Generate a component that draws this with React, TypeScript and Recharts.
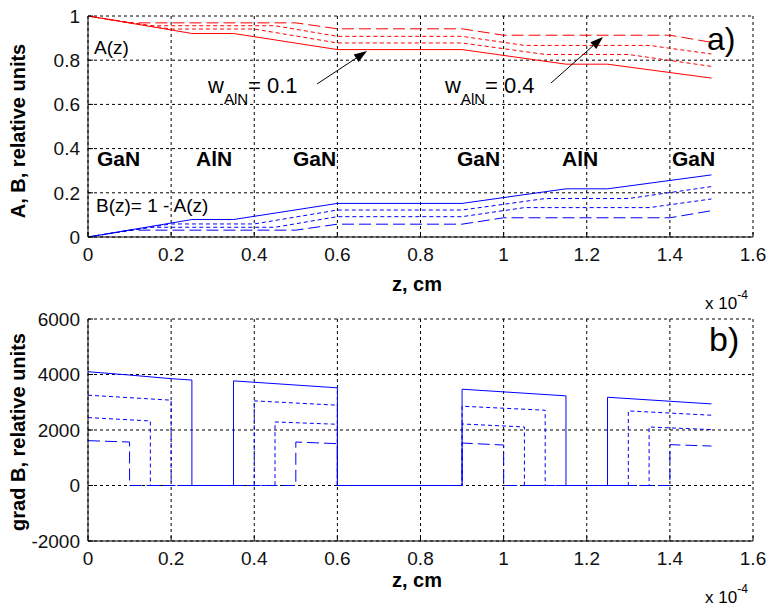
import { LineChart, Line, XAxis, YAxis, CartesianGrid } from 'recharts';

// z in units of 1e-4 cm
const zTicks = [0, 0.2, 0.4, 0.6, 0.8, 1, 1.2, 1.4, 1.6];
const abTicks = [0, 0.2, 0.4, 0.6, 0.8, 1];
const gradTicks = [-2000, 0, 2000, 4000, 6000];

// panel a) : A(z) and B(z) for w_AlN = 0.1, 0.2, 0.3, 0.4
const zW01 = [0, 0.25, 0.35, 0.6, 0.9, 1.15, 1.25, 1.5];
const aW01 = [1, 0.921, 0.921, 0.848, 0.848, 0.782, 0.782, 0.719];
const bW01 = [0, 0.079, 0.079, 0.152, 0.152, 0.218, 0.218, 0.281];

const zW02 = [0, 0.2, 0.4, 0.6, 0.9, 1.1, 1.3, 1.5];
const aW02 = [1, 0.941, 0.941, 0.878, 0.878, 0.826, 0.826, 0.772];
const bW02 = [0, 0.059, 0.059, 0.122, 0.122, 0.174, 0.174, 0.228];

const zW03 = [0, 0.15, 0.45, 0.6, 0.9, 1.05, 1.35, 1.5];
const aW03 = [1, 0.956, 0.956, 0.908, 0.908, 0.867, 0.867, 0.828];
const bW03 = [0, 0.044, 0.044, 0.092, 0.092, 0.133, 0.133, 0.172];

const zW04 = [0, 0.1, 0.5, 0.6, 0.9, 1.0, 1.4, 1.5];
const aW04 = [1, 0.969, 0.969, 0.942, 0.942, 0.913, 0.913, 0.881];
const bW04 = [0, 0.031, 0.031, 0.058, 0.058, 0.087, 0.087, 0.119];

// panel b) : grad B, steps drop to zero inside AlN and the gap
const gzW01 = [0, 0.1, 0.2, 0.25, 0.25, 0.35, 0.35, 0.6, 0.6, 0.9, 0.9, 1.15, 1.15, 1.25, 1.25, 1.5];
const gW01 = [4100, 3980, 3850, 3800, 0, 0, 3770, 3520, 0, 0, 3470, 3230, 0, 0, 3180, 2940];

const gzW02 = [0, 0.2, 0.2, 0.4, 0.4, 0.6, 0.6, 0.9, 0.9, 1.1, 1.1, 1.3, 1.3, 1.5];
const gW02 = [3255, 3074, 0, 0, 3050, 2893, 0, 0, 2857, 2712, 0, 0, 2688, 2532];

const gzW03 = [0, 0.15, 0.15, 0.45, 0.45, 0.6, 0.6, 0.9, 0.9, 1.05, 1.05, 1.35, 1.35, 1.5];
const gW03 = [2448, 2326, 0, 0, 2290, 2206, 0, 0, 2217, 2109, 0, 0, 2109, 2014];

const gzW04 = [0, 0.1, 0.1, 0.5, 0.5, 0.6, 0.6, 0.9, 0.9, 1.0, 1.0, 1.4, 1.4, 1.5];
const gW04 = [1616, 1566, 0, 0, 1566, 1508, 0, 0, 1530, 1458, 0, 0, 1472, 1422];

const layerLabels = ['GaN', 'AlN', 'GaN', 'GaN', 'AlN', 'GaN'];
const layerLabelX = [97, 196, 293, 457, 562, 672];

const pts = (z: number[], v: number[]) => z.map((x, i) => ({ z: x, v: v[i] }));

const FONT = "'Liberation Sans', Arial, Helvetica, sans-serif";
const RED = '#ff0000';
const BLUE = '#0000ff';

// solid, dashed, dashed, long dash
const dashes = [undefined, '4 3', '4 3', '12 5'];

const tickStyle = { fontSize: 19, fill: '#111', fontFamily: FONT };

function Arrow({ x1, y1, x2, y2 }: { x1: number; y1: number; x2: number; y2: number }) {
  const a = Math.atan2(y2 - y1, x2 - x1);
  const len = 13;
  const half = 4.5;
  const bx = x2 - len * Math.cos(a);
  const by = y2 - len * Math.sin(a);
  const p1 = `${bx + half * Math.sin(a)},${by - half * Math.cos(a)}`;
  const p2 = `${bx - half * Math.sin(a)},${by + half * Math.cos(a)}`;
  return (
    <g>
      <line x1={x1} y1={y1} x2={bx} y2={by} stroke="#000" strokeWidth={1} />
      <polygon points={`${x2},${y2} ${p1} ${p2}`} fill="#000" />
    </g>
  );
}

function Panel({
  top,
  height,
  marginTop,
  marginBottom,
  domain,
  ticks,
  children,
}: {
  top: number;
  height: number;
  marginTop: number;
  marginBottom: number;
  domain: [number, number];
  ticks: number[];
  children: React.ReactNode;
}) {
  return (
    <div style={{ position: 'absolute', left: 0, top }}>
      <LineChart
        width={770}
        height={height}
        margin={{ top: marginTop, right: 17, bottom: marginBottom, left: 0 }}
      >
        <CartesianGrid stroke="#000" strokeDasharray="3 3" strokeWidth={1} horizontalValues={ticks} verticalValues={zTicks} />
        <XAxis
          type="number"
          dataKey="z"
          domain={[0, 1.6]}
          ticks={zTicks}
          allowDataOverflow
          height={30}
          tick={tickStyle}
          tickSize={-5}
          tickMargin={16}
          stroke="#000"
          tickLine={{ stroke: '#000' }}
          axisLine={{ stroke: '#000' }}
        />
        <YAxis
          type="number"
          domain={domain}
          ticks={ticks}
          allowDataOverflow
          width={88}
          tick={tickStyle}
          tickSize={-5}
          tickMargin={13}
          stroke="#000"
          tickLine={{ stroke: '#000' }}
          axisLine={{ stroke: '#000' }}
        />
        {children}
      </LineChart>
    </div>
  );
}

const aSeries = [
  pts(zW01, aW01),
  pts(zW02, aW02),
  pts(zW03, aW03),
  pts(zW04, aW04),
];
const bSeries = [
  pts(zW01, bW01),
  pts(zW02, bW02),
  pts(zW03, bW03),
  pts(zW04, bW04),
];
const gSeries = [
  pts(gzW01, gW01),
  pts(gzW02, gW02),
  pts(gzW03, gW03),
  pts(gzW04, gW04),
];

export default function App() {
  return (
    <div style={{ position: 'absolute', left: 0, top: 0, width: 770, height: 607, background: '#fff', fontFamily: FONT }}>
      <Panel top={0} height={300} marginTop={16} marginBottom={33} domain={[0, 1]} ticks={abTicks}>
        {aSeries.map((d, i) => (
          <Line
            key={`a${i}`}
            data={d}
            dataKey="v"
            type="linear"
            stroke={RED}
            strokeWidth={1}
            strokeDasharray={dashes[i]}
            dot={false}
            isAnimationActive={false}
          />
        ))}
        {bSeries.map((d, i) => (
          <Line
            key={`b${i}`}
            data={d}
            dataKey="v"
            type="linear"
            stroke={BLUE}
            strokeWidth={1}
            strokeDasharray={dashes[i]}
            dot={false}
            isAnimationActive={false}
          />
        ))}
      </Panel>
      <Panel top={300} height={307} marginTop={19} marginBottom={36} domain={[-2000, 6000]} ticks={gradTicks}>
        {gSeries
          .map((d, i) => (
            <Line
              key={`g${i}`}
              data={d}
              dataKey="v"
              type="linear"
              stroke={BLUE}
              strokeWidth={1}
              strokeDasharray={dashes[i]}
              dot={false}
              isAnimationActive={false}
            />
          ))
          .reverse()}
      </Panel>
      <svg
        width={770}
        height={607}
        style={{ position: 'absolute', left: 0, top: 0, pointerEvents: 'none' }}
        fontFamily={FONT}
      >
        {/* panel a */}
        <text x={94} y={54} fontSize={19}>A(z)</text>
        <text x={96} y={212} fontSize={19}>B(z)= 1 - A(z)</text>
        {layerLabels.map((t, i) => (
          <text key={t + i} x={layerLabelX[i]} y={166} fontSize={21} fontWeight="bold">
            {t}
          </text>
        ))}
        <text x={208} y={93} fontSize={22}>
          w<tspan fontSize={15} dy={11}>AlN</tspan>
          <tspan fontSize={22} dy={-11}>= 0.1</tspan>
        </text>
        <Arrow x1={317} y1={84} x2={367} y2={51} />
        <text x={445} y={93} fontSize={22}>
          w<tspan fontSize={15} dy={11}>AlN</tspan>
          <tspan fontSize={22} dy={-11}>= 0.4</tspan>
        </text>
        <Arrow x1={551} y1={83} x2={603} y2={37} />
        <text x={707} y={50} fontSize={32}>a)</text>
        <text
          transform="translate(25,131) rotate(-90)"
          textAnchor="middle"
          fontSize={20}
          fontWeight="bold"
        >
          A, B, relative units
        </text>
        <text x={417} y={291} textAnchor="middle" fontSize={20} fontWeight="bold">z, cm</text>
        <text x={705} y={309} fontSize={17}>
          x 10<tspan fontSize={12} dy={-10}>-4</tspan>
        </text>

        {/* panel b */}
        <text x={709} y={351} fontSize={34}>b)</text>
        <text
          transform="translate(25,432) rotate(-90)"
          textAnchor="middle"
          fontSize={20}
          fontWeight="bold"
        >
          grad B, relative units
        </text>
        <text x={417} y={587} textAnchor="middle" fontSize={20} fontWeight="bold">z, cm</text>
        <text x={705} y={603} fontSize={17}>
          x 10<tspan fontSize={12} dy={-10}>-4</tspan>
        </text>
      </svg>
    </div>
  );
}
